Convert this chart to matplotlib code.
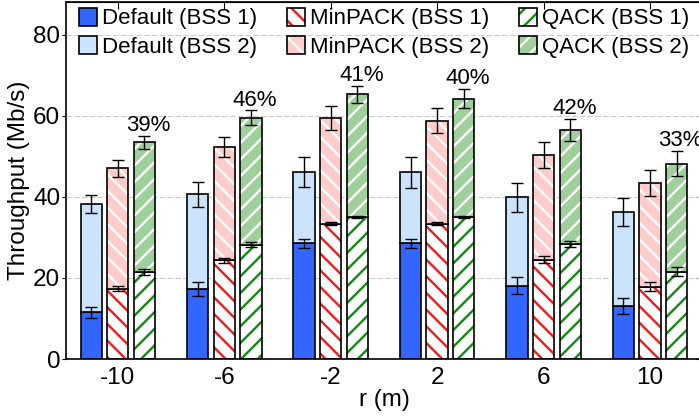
import numpy as np
import matplotlib
matplotlib.use("Agg")
import matplotlib.pyplot as plt
from matplotlib.patches import Patch
from matplotlib.legend_handler import HandlerTuple

plt.rcParams["font.family"] = ["Liberation Sans", "DejaVu Sans"]
plt.rcParams["hatch.linewidth"] = 1.7

r_labels = ["-10", "-6", "-2", "2", "6", "10"]

default_bss1 = [11.5, 17.3, 28.5, 28.5, 18.1, 13.1]
default_bss2 = [26.8, 23.3, 17.6, 17.5, 21.8, 23.2]
minpack_bss1 = [17.3, 24.3, 33.4, 33.4, 24.5, 17.8]
minpack_bss2 = [29.7, 28.0, 26.0, 25.3, 25.7, 25.5]
qack_bss1 = [21.4, 28.2, 35.0, 35.0, 28.3, 21.5]
qack_bss2 = [32.0, 31.3, 30.3, 29.2, 28.2, 26.7]

# error on BSS 1 alone and on the stacked total
default_err1 = [1.35, 1.7, 1.2, 1.2, 2.1, 1.9]
default_err_tot = [2.2, 3.0, 3.8, 3.9, 3.6, 3.4]
minpack_err1 = [0.6, 0.7, 0.3, 0.3, 0.9, 1.1]
minpack_err_tot = [2.05, 2.5, 2.9, 3.1, 3.2, 3.2]
qack_err1 = [0.7, 0.7, 0.2, 0.2, 0.8, 1.1]
qack_err_tot = [1.6, 1.8, 2.1, 2.4, 2.7, 3.0]

gain_labels = ["39%", "46%", "41%", "40%", "42%", "33%"]


def hatched_bar(ax, x, h, bottom, face, hatch, hcolor, width):
    ax.bar(x, h, width, bottom=bottom, color=face, hatch=hatch,
           edgecolor=hcolor, linewidth=0)
    ax.bar(x, h, width, bottom=bottom, fill=False, edgecolor="black",
           linewidth=1.2)


def main():
    fig = plt.figure(figsize=(6.99, 4.16), dpi=100)
    ax = fig.add_axes([0.094, 0.137, 0.912, 0.858])

    x = np.arange(len(r_labels))
    width = 0.2
    methods = [
        (default_bss1, default_bss2, default_err1, default_err_tot,
         "#3366ff", "#cce4fb", "", "", "#3366ff", "#cce4fb", "Default"),
        (minpack_bss1, minpack_bss2, minpack_err1, minpack_err_tot,
         "white", "#ffcccc", "\\\\", "\\\\", "#ee1c1c", "white", "MinPACK"),
        (qack_bss1, qack_bss2, qack_err1, qack_err_tot,
         "white", "#9fcf9a", "//", "//", "#118a11", "white", "QACK"),
    ]

    handles = []
    labels = []
    for i, (b1, b2, e1, et, f1, f2, h1, h2, hc1, hc2, name) in enumerate(methods):
        pos = x + (i - 1) * 0.25
        b1 = np.array(b1)
        b2 = np.array(b2)
        hatched_bar(ax, pos, b1, 0, f1, h1, hc1, width)
        hatched_bar(ax, pos, b2, b1, f2, h2, hc2, width)
        ax.errorbar(pos, b1, yerr=e1, fmt="none", ecolor="black",
                    elinewidth=1, capsize=4, capthick=1)
        ax.errorbar(pos, b1 + b2, yerr=et, fmt="none", ecolor="black",
                    elinewidth=1, capsize=4, capthick=1)
        for face, hatch, hcol, bss in [(f1, h1, hc1, 1), (f2, h2, hc2, 2)]:
            fill = Patch(facecolor=face, hatch=hatch, edgecolor=hcol, linewidth=0)
            edge = Patch(fill=False, edgecolor="black", linewidth=1.2)
            handles.append((fill, edge))
            labels.append(f"{name} (BSS {bss})")

    # throughput gain of QACK over Default
    q_top = np.array(qack_bss1) + np.array(qack_bss2) + np.array(qack_err_tot)
    for xi, yi, lab in zip(x + 0.29, q_top, gain_labels):
        ax.text(xi, yi + 1.2, lab, ha="center", va="baseline", fontsize=16)

    ax.set_xlim(-0.49, 5.5)
    ax.set_ylim(0, 88)
    ax.set_xticks(x)
    ax.set_xticklabels(r_labels)
    ax.set_yticks([0, 20, 40, 60, 80])
    ax.tick_params(axis="both", labelsize=17.5)
    ax.tick_params(axis="y", direction="out", length=3, pad=1)
    ax.tick_params(axis="x", length=0, pad=6)

    # inward ticks along top and right edges
    top = ax.secondary_xaxis("top")
    top.set_xticks(x)
    top.tick_params(direction="in", length=5, labeltop=False)
    right = ax.secondary_yaxis("right")
    right.set_yticks([0, 20, 40, 60, 80])
    right.tick_params(direction="in", length=5, labelright=False)

    ax.grid(axis="y", color="#cccccc", linestyle=(0, (5, 2)), linewidth=0.8)
    ax.set_axisbelow(True)
    for s in ax.spines.values():
        s.set_linewidth(1.2)

    ax.set_xlabel("r (m)", fontsize=17.5, labelpad=0)
    ax.set_ylabel("Throughput (Mb/s)", fontsize=17.5, labelpad=2)

    ax.legend(handles, labels, ncol=3, loc="upper left",
              bbox_to_anchor=(0.017, 0.99), frameon=False, fontsize=16,
              handler_map={tuple: HandlerTuple(ndivide=1, pad=0)},
              handlelength=0.81, handleheight=0.85, handletextpad=0.22,
              columnspacing=1.35, labelspacing=0.3, borderaxespad=0,
              borderpad=0.1)

    fig.savefig("out.png", dpi=100)


if __name__ == "__main__":
    main()
